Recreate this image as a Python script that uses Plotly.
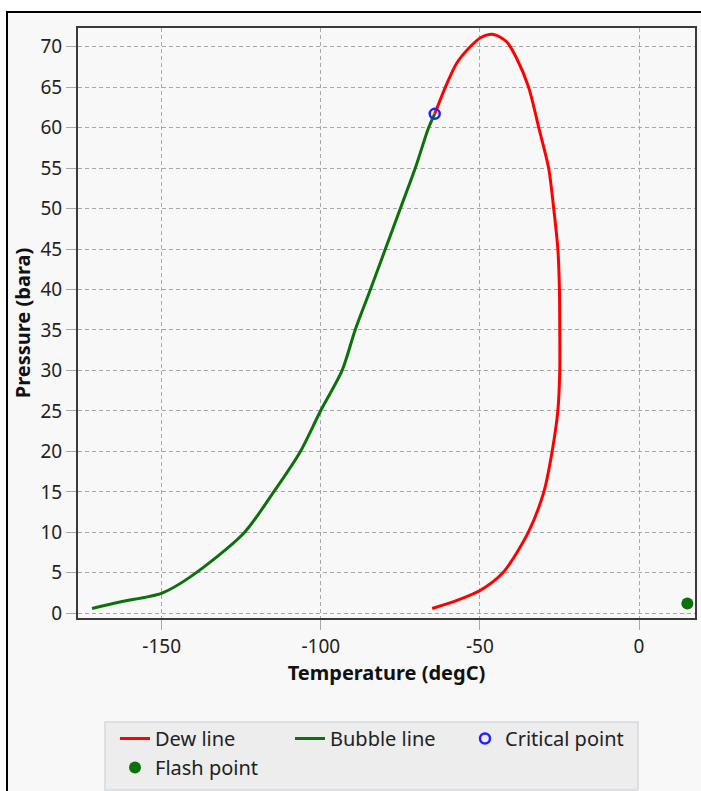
import plotly.graph_objects as go

# Dew line (red), ordered from low pressure up around to the critical point
dew_T = [-65.0, -57.2, -49.8, -42.8, -34.8, -29.9, -27.3, -25.5, -24.9, -24.9, -25.0,
         -25.5, -26.8, -28.4, -31.5, -34.7, -38.5, -41.6, -45.7, -49.8, -53.5, -57.2,
         -60.3, -64.2]
dew_P = [0.6, 1.6, 2.85, 5.0, 10.0, 15.0, 20.0, 25.0, 30.0, 35.0, 40.0,
         45.0, 50.0, 55.0, 60.0, 65.0, 68.6, 70.6, 71.5, 71.1, 69.8, 68.0,
         65.5, 61.7]

# Bubble line (green)
bub_T = [-171.9, -163.1, -149.9, -141.0, -124.3, -114.8, -106.4, -100.2, -93.3,
         -89.2, -84.4, -79.7, -75.0, -70.3, -66.1, -64.2]
bub_P = [0.6, 1.4, 2.5, 4.5, 9.85, 15.0, 20.0, 24.9, 30.0,
         35.0, 40.0, 45.0, 50.0, 55.0, 60.0, 61.7]

crit_T = [-64.2]
crit_P = [61.7]

flash_T = [15.2]
flash_P = [1.2]

x_ticks = [-150, -100, -50, 0]
y_ticks = list(range(0, 75, 5))

BG = "#f8f8f8"
FONT = "Noto Sans"
GREEN = "#0b710b"

fig = go.Figure()
fig.add_trace(go.Scatter(x=dew_T, y=dew_P, mode="lines", name="Dew line",
                         line=dict(color="#ff0000", width=3, shape="spline", smoothing=0.8)))
fig.add_trace(go.Scatter(x=bub_T, y=bub_P, mode="lines", name="Bubble line",
                         line=dict(color=GREEN, width=3, shape="spline", smoothing=0.8)))
fig.add_trace(go.Scatter(x=crit_T, y=crit_P, mode="markers", name="Critical point",
                         marker=dict(symbol="circle-open", size=10, color="#2222ff",
                                     line=dict(width=2.5, color="#2222ff"))))
fig.add_trace(go.Scatter(x=flash_T, y=flash_P, mode="markers", name="Flash point",
                         marker=dict(symbol="circle", size=12, color=GREEN)))

W, H = 701, 791
L, R, T, B = 78, 6, 28, 173
pw, ph = W - L - R, H - T - B

def px_x(p):
    return (p - L) / pw

def px_y(p):
    return 1 - (p - T) / ph

# outer panel frame
fig.add_shape(type="rect", xref="paper", yref="paper",
              x0=px_x(7), x1=px_x(760), y0=px_y(850), y1=px_y(12),
              line=dict(color="black", width=2), fillcolor=BG, layer="below")
# legend box
fig.add_shape(type="rect", xref="paper", yref="paper",
              x0=px_x(105), x1=px_x(638), y0=px_y(790), y1=px_y(722),
              line=dict(color="#d4d8de", width=1.5), fillcolor="#ededed", layer="below")

axis_common = dict(
    showgrid=True, gridcolor="#a8a8a8", griddash="4px,3px", gridwidth=1,
    showline=True, linecolor="#3a3a3a", linewidth=2, mirror=True,
    ticks="outside", ticklen=10, tickcolor="#a8a8a8", tickwidth=1,
    zeroline=False,
    tickfont=dict(family=FONT, size=19, color="#222"),
)

fig.update_xaxes(range=[-176.3, 17.6], tickvals=x_ticks,
                 ticktext=[str(v) for v in x_ticks],
                 title=dict(text="<b>Temperature (degC)</b>", standoff=6,
                            font=dict(family=FONT, size=20, color="#111")),
                 **axis_common)
fig.update_yaxes(range=[-0.58, 72.3], tickvals=y_ticks,
                 ticktext=[str(v) for v in y_ticks],
                 title=dict(text="<b>Pressure (bara)</b>", standoff=4,
                            font=dict(family=FONT, size=20, color="#111")),
                 **axis_common)

fig.update_layout(
    width=W, height=H,
    margin=dict(l=L, r=R, t=T, b=B, autoexpand=False),
    paper_bgcolor="white", plot_bgcolor=BG,
    font=dict(family=FONT, size=19, color="#222"),
    showlegend=True,
    legend=dict(orientation="h", x=px_x(115), xanchor="left",
                y=px_y(719), yanchor="top",
                bgcolor="rgba(0,0,0,0)", borderwidth=0,
                entrywidth=130, entrywidthmode="pixels",
                font=dict(family=FONT, size=20, color="#222"),
                tracegroupgap=0),
)

fig.write_html("out.html")
